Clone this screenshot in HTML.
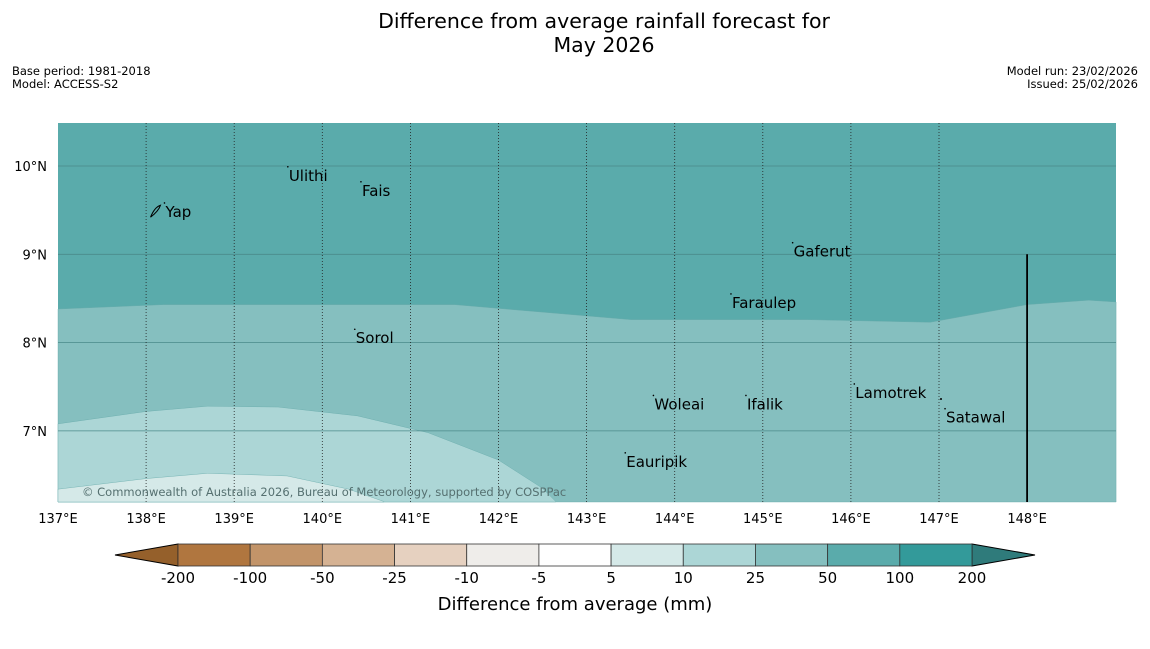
<!DOCTYPE html>
<html><head><meta charset="utf-8"><style>
body{margin:0;background:#fff;font-family:"Liberation Sans","DejaVu Sans",sans-serif;}
svg text{font-family:"DejaVu Sans","Liberation Sans",sans-serif;}
</style></head><body>
<svg id="chart" width="1150" height="644" viewBox="0 0 1150 644" xmlns="http://www.w3.org/2000/svg">
<text x="604" y="28" font-size="20.5" text-anchor="middle">Difference from average rainfall forecast for</text>
<text x="604" y="52" font-size="20.5" text-anchor="middle">May 2026</text>
<text x="12" y="75" font-size="11.5">Base period: 1981-2018</text>
<text x="12" y="88" font-size="11.5">Model: ACCESS-S2</text>
<text x="1138" y="75" font-size="11.5" text-anchor="end">Model run: 23/02/2026</text>
<text x="1138" y="88" font-size="11.5" text-anchor="end">Issued: 25/02/2026</text>
<g id="map"></g>
<g id="cbar"></g>
<text x="575" y="610" font-size="18" text-anchor="middle">Difference from average (mm)</text>
</svg>
<script>
const lonTicks=[137,138,139,140,141,142,143,144,145,146,147,148];
const latTicks=[10,9,8,7];
// contour boundaries [lon,lat]
const bound100=[[137,8.38],[138.2,8.43],[139,8.43],[141.5,8.43],[143.5,8.26],[145.5,8.26],[146.9,8.23],[148,8.43],[148.7,8.48],[149.01,8.46]];
const bound50=[[137,7.08],[138,7.22],[138.7,7.28],[139.5,7.27],[140.4,7.17],[141.2,6.98],[142,6.67],[142.5,6.35],[142.65,6.2]];
const bound25=[[137,6.34],[138,6.46],[138.7,6.52],[139.6,6.49],[140.3,6.34],[140.7,6.2]];
const islands=[["Yap",138.22,9.57],["Ulithi",139.62,9.98],["Fais",140.45,9.81],["Gaferut",145.35,9.12],["Faraulep",144.65,8.54],["Sorol",140.38,8.14],["Woleai",143.77,7.39],["Ifalik",144.82,7.39],["Lamotrek",146.05,7.52],["Satawal",147.08,7.24],["Eauripik",143.45,6.74]];
const cbLabels=["-200","-100","-50","-25","-10","-5","5","10","25","50","100","200"];
const cbColors=["#b0763f","#c29469","#d5b293","#e6d1c0","#efedea","#ffffff","#d5e9e8","#acd6d6","#85bfbf","#5aabab","#339a9a"];
const X0=58,X1=1116,Y0=123,Y1=502;
const x=lon=>58+(lon-137)*88.1;
const y=lat=>166+(10-lat)*88.3;
const NS="http://www.w3.org/2000/svg";
function mk(t,a,p){const e=document.createElementNS(NS,t);for(const k in a)e.setAttribute(k,a[k]);p.appendChild(e);return e;}
const map=document.getElementById('map');
const r=mk('rect',{x:X0,y:Y0,width:X1-X0,height:Y1-Y0,fill:'#5aabab'},map);


function region(b,color,name){
 let d='M'+x(b[0][0])+','+y(b[0][1]);
 b.forEach(p=>d+=' L'+x(p[0])+','+y(p[1]));
 const last=b[b.length-1];
 d+=' L'+x(last[0])+','+Y1+' L'+X0+','+Y1+' Z';
 const p=mk('path',{d:d,fill:color,stroke:'#6aa',"stroke-width":0.4},map);
 
 
}
region(bound100,'#85bfbf','region-50-100');
region(bound50,'#acd6d6','region-25-50');
region(bound25,'#d5e9e8','region-10-25');
latTicks.forEach(l=>{
 const ln=mk('line',{x1:X0,x2:X1,y1:y(l),y2:y(l),stroke:'#4a8a8a',"stroke-width":0.8},map);
 
 
 const t=mk('text',{x:47,y:y(l)+5,"font-size":13,"text-anchor":"end"},map);t.textContent=l+'°N';
 
 
});
lonTicks.forEach(l=>{
 if(l>137&&l<148){const ln=mk('line',{x1:x(l),x2:x(l),y1:Y0,y2:Y1,stroke:'#222',"stroke-width":0.8,"stroke-dasharray":"1,2"},map);
 
 }
 const t=mk('text',{x:x(l),y:523,"font-size":13,"text-anchor":"middle"},map);t.textContent=l+'°E';
 
 
});
const vl=mk('line',{x1:x(148),x2:x(148),y1:y(9),y2:Y1,stroke:'#000',"stroke-width":1.8},map);


const yp=mk('path',{d:`M${x(138.05)},${y(9.42)} q4,-10 10,-12 q-2,6 -10,12`,fill:'none',stroke:'#000',"stroke-width":1},map);


islands.forEach(s=>{
 const d=mk('circle',{cx:x(s[1])-1,cy:y(s[2])-1,r:0.8,fill:'#000'},map);
 
 
 const t=mk('text',{x:x(s[1]),y:y(s[2])+13,"font-size":15},map);t.textContent=s[0];
 
 
});
const lm=mk('circle',{cx:941,cy:399,r:1,fill:'#000'},map);


const cp=mk('text',{x:82,y:496,"font-size":11.5,fill:'#557070'},map);cp.textContent='© Commonwealth of Australia 2026, Bureau of Meteorology, supported by COSPPac';


const cb=document.getElementById('cbar');
const cx0=178,cx1=972,cy0=544,cy1=566,w=(cx1-cx0)/cbColors.length;
const la=mk('polygon',{points:`${cx0},${cy0} 115,555 ${cx0},${cy1}`,fill:'#95602b',stroke:'#000',"stroke-width":1},cb);


const ra=mk('polygon',{points:`${cx1},${cy0} 1035,555 ${cx1},${cy1}`,fill:'#2f7b7b',stroke:'#000',"stroke-width":1},cb);


cbColors.forEach((c,i)=>{
 const b=mk('rect',{x:cx0+i*w,y:cy0,width:w,height:cy1-cy0,fill:c,stroke:'#333',"stroke-width":0.8},cb);
 
 
});
cbLabels.forEach((l,i)=>{
 const t=mk('text',{x:cx0+i*w,y:583,"font-size":15,"text-anchor":"middle"},cb);t.textContent=l;
 
 
});
</script>
</body></html>
